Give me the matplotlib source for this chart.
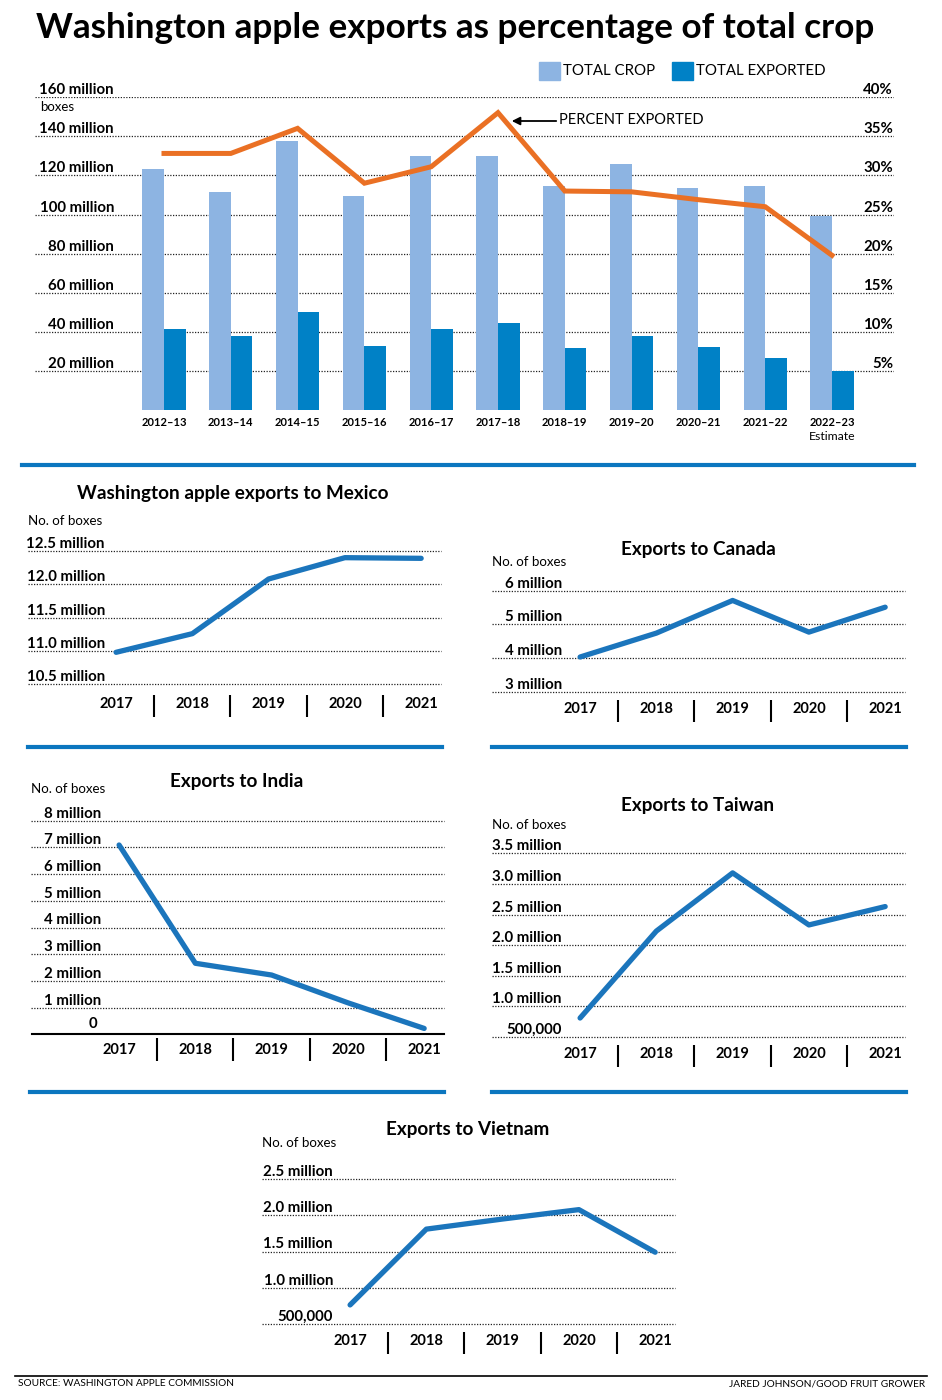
import matplotlib
matplotlib.use('Agg')
import matplotlib.pyplot as plt
from matplotlib.lines import Line2D
from matplotlib.patches import Rectangle, FancyArrowPatch

plt.rcParams['font.family'] = ['Lato', 'DejaVu Sans']

# main chart data (million boxes / percent)
seasons = ['2012–13', '2013–14', '2014–15', '2015–16', '2016–17', '2017–18',
           '2018–19', '2019–20', '2020–21', '2021–22', '2022–23']
total_crop = [123.5, 111.3, 137.5, 109.4, 130.0, 129.7, 114.4, 125.8, 113.5, 114.4, 99.4]
total_exported = [41.6, 38.0, 50.4, 32.9, 41.6, 44.6, 31.9, 38.0, 32.6, 26.8, 20.0]
percent_exported = [32.8, 32.8, 36.0, 29.0, 31.1, 38.0, 28.0, 27.9, 26.9, 26.0, 19.8]
box_ticks = [20, 40, 60, 80, 100, 120, 140, 160]
pct_ticks = [5, 10, 15, 20, 25, 30, 35, 40]

# country charts (million boxes)
years = ['2017', '2018', '2019', '2020', '2021']
mexico = [10.98, 11.26, 12.08, 12.40, 12.39]
mexico_ticks = [10.5, 11.0, 11.5, 12.0, 12.5]
mexico_labels = ['10.5 million', '11.0 million', '11.5 million', '12.0 million', '12.5 million']
canada = [4.03, 4.74, 5.71, 4.77, 5.51]
canada_ticks = [3, 4, 5, 6]
canada_labels = ['3 million', '4 million', '5 million', '6 million']
india = [7.09, 2.66, 2.22, 1.18, 0.22]
india_ticks = [0, 1, 2, 3, 4, 5, 6, 7, 8]
india_labels = ['0', '1 million', '2 million', '3 million', '4 million',
                '5 million', '6 million', '7 million', '8 million']
taiwan = [0.81, 2.23, 3.18, 2.33, 2.63]
taiwan_ticks = [0.5, 1.0, 1.5, 2.0, 2.5, 3.0, 3.5]
taiwan_labels = ['500,000', '1.0 million', '1.5 million', '2.0 million',
                 '2.5 million', '3.0 million', '3.5 million']
vietnam = [0.76, 1.81, 1.95, 2.08, 1.49]
vietnam_ticks = [0.5, 1.0, 1.5, 2.0, 2.5]
vietnam_labels = ['500,000', '1.0 million', '1.5 million', '2.0 million', '2.5 million']

LIGHT = '#8db4e2'
DARK = '#0081c6'
ORANGE = '#ea7024'
LINE = '#1b75bc'
SEP = '#0b76bf'
GRID = '#222222'

W, H = 942, 1400
fig = plt.figure(figsize=(W / 100, H / 100), dpi=100)


def fx(px):
    return px / W


def fy(py):
    return 1 - py / H


def hline(x0, x1, y, color, lw):
    fig.add_artist(Line2D([fx(x0), fx(x1)], [fy(y), fy(y)], color=color, lw=lw))


# title
fig.text(fx(36), fy(28), 'Washington apple exports as percentage of total crop',
         fontsize=25.3, fontweight='bold', va='center', ha='left')

# ---- main bar chart ----
ax = fig.add_axes([fx(35), fy(410.5), fx(894 - 35), (410.5 - 97) / H])
ax.set_xlim(-1.931, 10.928)
ax.set_ylim(0, 160)
ax.axis('off')
x = list(range(len(seasons)))
bw = 0.322
for t in box_ticks:
    ax.axhline(t, color=GRID, lw=0.9, ls=(0, (1, 1.2)), zorder=0)
    ax.text((114 - 35) / 859, t, f'{t} million', transform=ax.get_yaxis_transform(),
            ha='right', va='bottom', fontsize=10.8, fontweight='bold')
ax.bar([i - bw / 2 for i in x], total_crop, width=bw, color=LIGHT, zorder=2)
ax.bar([i + bw / 2 for i in x], total_exported, width=bw, color=DARK, zorder=2)
for i, s in enumerate(seasons):
    ax.annotate(s, (i, 0), xycoords=ax.get_xaxis_transform(), xytext=(0, -12 * 0.72),
                textcoords='offset points', ha='center', va='center',
                fontsize=8, fontweight='bold')
ax.annotate('Estimate', (10, 0), xycoords=ax.get_xaxis_transform(), xytext=(0, -26 * 0.72),
            textcoords='offset points', ha='center', va='center', fontsize=8.8)

ax2 = ax.twinx()
ax2.set_ylim(0, 40)
ax2.axis('off')
ax2.plot(x, percent_exported, color=ORANGE, lw=3.6, solid_joinstyle='miter', zorder=3)
for p in pct_ticks:
    ax2.text(0.999, p, f'{p}%', transform=ax2.get_yaxis_transform(),
             ha='right', va='bottom', fontsize=10.8, fontweight='bold')

fig.text(fx(40), fy(107), 'boxes', fontsize=9.5, va='center', ha='left')

# legend
fig.add_artist(Rectangle((fx(539), fy(80)), fx(21), 18 / H, color=LIGHT))
fig.text(fx(563), fy(71), 'TOTAL CROP', fontsize=10.8, va='center', ha='left')
fig.add_artist(Rectangle((fx(672), fy(80)), fx(21), 18 / H, color=DARK))
fig.text(fx(696), fy(71), 'TOTAL EXPORTED', fontsize=10.8, va='center', ha='left')

# annotation
fig.text(fx(559), fy(120), 'PERCENT EXPORTED', fontsize=10.5, va='center', ha='left')
fig.add_artist(FancyArrowPatch((fx(559), fy(121)), (fx(509), fy(121)),
                               arrowstyle='-|>', mutation_scale=12, color='black', lw=1.3))

hline(22, 914, 464.5, SEP, 3)


def small_chart(left, top, bottom, ticks, labels, values, title, title_xy, note_xy,
                label_w=70, year_dy=17, sep=(8, 30), baseline=False):
    ax = fig.add_axes([fx(left), fy(bottom), fx(413), (bottom - top) / H])
    ax.set_xlim(-1.155, 4.26)
    ax.set_ylim(ticks[0], ticks[-1])
    ax.axis('off')
    h = bottom - top
    for t, lab in zip(ticks, labels):
        if baseline and t == ticks[0]:
            ax.axhline(t, color='black', lw=1.5, xmin=1 / 413, clip_on=False)
            ax.annotate(lab, (label_w / 413 - 0.01, t), xycoords=ax.get_yaxis_transform(),
                        xytext=(0, 10 * 0.72), textcoords='offset points',
                        ha='right', va='center', fontsize=10.8, fontweight='bold')
            continue
        ax.axhline(t, color=GRID, lw=0.9, ls=(0, (1, 1.2)), clip_on=False)
        ax.text(label_w / 413, t, lab, transform=ax.get_yaxis_transform(),
                ha='right', va='bottom', fontsize=10.8, fontweight='bold')
    ax.plot(range(len(years)), values, color=LINE, lw=3.8, solid_capstyle='round', clip_on=False)
    for i, yr in enumerate(years):
        ax.annotate(yr, (i, 0), xycoords=ax.get_xaxis_transform(), xytext=(0, -year_dy * 0.72),
                    textcoords='offset points', ha='center', va='center',
                    fontsize=10.5, fontweight='bold')
    for i in range(len(years) - 1):
        ax.vlines(i + 0.5, -sep[0] / h, -sep[1] / h, transform=ax.get_xaxis_transform(),
                  color='black', lw=1.5, clip_on=False)
    fig.text(fx(title_xy[0]), fy(title_xy[1]), title, fontsize=13.6, fontweight='bold',
             ha='center', va='center')
    fig.text(fx(note_xy[0]), fy(note_xy[1]), 'No. of boxes', fontsize=9.6,
             ha='left', va='center')


small_chart(28, 551, 684.3, mexico_ticks, mexico_labels, mexico,
            'Washington apple exports to Mexico', (233, 494), (28, 521),
            label_w=77, year_dy=19.7, sep=(10.7, 32.7))
small_chart(492, 590.7, 691.7, canada_ticks, canada_labels, canada,
            'Exports to Canada', (698, 549), (492, 562))
hline(28, 442, 747, SEP, 3)
hline(492, 906, 747, SEP, 3)
small_chart(31, 820.7, 1034.3, india_ticks, india_labels, india,
            'Exports to India', (237, 781), (31, 789),
            year_dy=15.7, sep=(3.7, 26.4), baseline=True)
small_chart(492, 853.3, 1037, taiwan_ticks, taiwan_labels, taiwan,
            'Exports to Taiwan', (698, 806), (492, 825))
hline(30, 444, 1092, SEP, 3)
hline(492, 906, 1092, SEP, 3)
small_chart(262, 1179.3, 1323.7, vietnam_ticks, vietnam_labels, vietnam,
            'Exports to Vietnam', (468, 1129), (262, 1143), label_w=71)

# footer
hline(15, 927, 1376, 'black', 1.2)
fig.text(fx(18), fy(1384), 'SOURCE: WASHINGTON APPLE COMMISSION', fontsize=7.3, va='center', ha='left')
fig.text(fx(925), fy(1384), 'JARED JOHNSON/GOOD FRUIT GROWER', fontsize=7.3, va='center', ha='right')

fig.savefig('out.png', dpi=100, facecolor='white')
